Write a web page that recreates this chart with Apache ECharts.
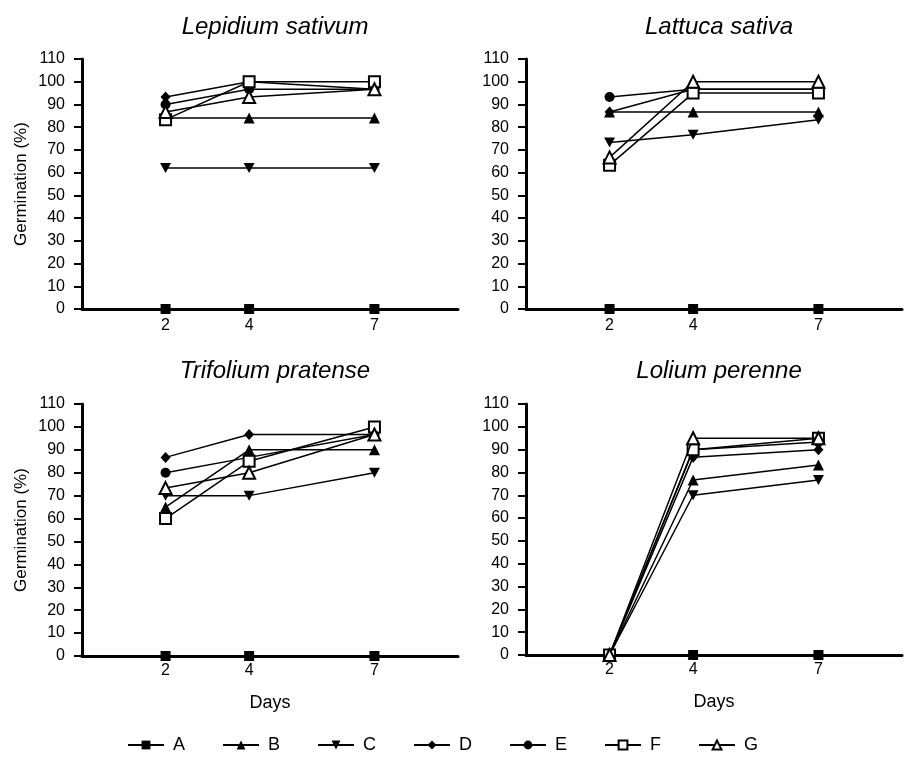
<!DOCTYPE html>
<html>
<head>
<meta charset="utf-8">
<script src="https://cdn.jsdelivr.net/npm/echarts@6/dist/echarts.min.js"></script>
<style>
html,body{margin:0;padding:0;background:#fff;}
#chart{width:907px;height:762px;}
</style>
</head>
<body>
<div id="chart"></div>
<script>
// ---- data ----
const days = [2, 4, 7];
const seriesNames = ['A', 'B', 'C', 'D', 'E', 'F', 'G'];
const panelTitles = ['Lepidium sativum', 'Lattuca sativa', 'Trifolium pratense', 'Lolium perenne'];
const yAxisTitle = 'Germination (%)';
const xAxisTitle = 'Days';

const lepidiumA = [0, 0, 0];
const lepidiumB = [84, 84, 84];
const lepidiumC = [62, 62, 62];
const lepidiumD = [93.3, 100, 96.7];
const lepidiumE = [90, 96.7, 96.7];
const lepidiumF = [83.3, 100, 100];
const lepidiumG = [86.7, 93.3, 96.7];

const lattucaA = [0, 0, 0];
const lattucaB = [86.7, 86.7, 86.7];
const lattucaC = [73.3, 76.7, 83.3];
const lattucaD = [86.7, 96.7, 96.7];
const lattucaE = [93.3, 96.7, 96.7];
const lattucaF = [63.3, 95, 95];
const lattucaG = [66.7, 100, 100];

const trifoliumA = [0, 0, 0];
const trifoliumB = [65, 90, 90];
const trifoliumC = [70, 70, 80];
const trifoliumD = [86.7, 96.7, 96.7];
const trifoliumE = [80, 86.7, 96.7];
const trifoliumF = [60, 85, 100];
const trifoliumG = [73.3, 80, 96.7];

const loliumA = [0, 0, 0];
const loliumB = [0, 76.7, 83.3];
const loliumC = [0, 70, 76.7];
const loliumD = [0, 86.7, 90];
const loliumE = [0, 90, 93.3];
const loliumF = [0, 90, 95];
const loliumG = [0, 95, 95];

const panels = [
  [lepidiumA, lepidiumB, lepidiumC, lepidiumD, lepidiumE, lepidiumF, lepidiumG],
  [lattucaA, lattucaB, lattucaC, lattucaD, lattucaE, lattucaF, lattucaG],
  [trifoliumA, trifoliumB, trifoliumC, trifoliumD, trifoliumE, trifoliumF, trifoliumG],
  [loliumA, loliumB, loliumC, loliumD, loliumE, loliumF, loliumG]
];

// ---- styles ----
const FONT = "'Liberation Sans Narrow', 'Liberation Sans', Arial, sans-serif";
const TFONT = "'Liberation Sans', Arial, sans-serif";
const symbolStyles = [
  { symbol: 'rect', size: 10, fill: '#000' },
  { symbol: 'triangle', size: 11, fill: '#000' },
  { symbol: 'path://M0,0 L10,0 L5,9 Z', size: [11, 10], fill: '#000' },
  { symbol: 'diamond', size: [10, 11], fill: '#000' },
  { symbol: 'circle', size: 10, fill: '#000' },
  { symbol: 'rect', size: 11, fill: '#fff', border: 2 },
  { symbol: 'triangle', size: 12, fill: '#fff', border: 2 }
];

const grids = [
  { left: 82, top: 59, width: 376, height: 250 },
  { left: 526, top: 59, width: 376, height: 250 },
  { left: 82, top: 404, width: 376, height: 252 },
  { left: 526, top: 404, width: 376, height: 251 }
];
const titleCenters = [[270, 10], [714, 10], [270, 354], [714, 354]];

const xAxes = grids.map((g, i) => ({
  gridIndex: i, type: 'value', min: 0, max: 9,
  name: i >= 2 ? xAxisTitle : '', nameLocation: 'middle', nameGap: 38,
  nameTextStyle: { fontFamily: FONT, fontSize: 18, color: '#000' },
  axisLine: { onZero: false, lineStyle: { color: '#000', width: 3 } },
  axisTick: { show: true, customValues: days, length: 4, lineStyle: { color: '#000', width: 2 } },
  axisLabel: { customValues: days, fontFamily: FONT, fontSize: 16, color: '#000', margin: i < 2 ? 9 : 7 },
  splitLine: { show: false }
}));
const yAxes = grids.map((g, i) => ({
  gridIndex: i, type: 'value', min: 0, max: 110, interval: 10,
  name: (i % 2 === 0) ? yAxisTitle : '', nameLocation: 'middle', nameGap: 52,
  nameTextStyle: { fontFamily: TFONT, fontSize: 17, color: '#000' },
  axisLine: { show: true, onZero: false, lineStyle: { color: '#000', width: 3 } },
  axisTick: { show: true, length: 8, lineStyle: { color: '#000', width: 2 } },
  axisLabel: { fontFamily: FONT, fontSize: 16, color: '#000', margin: 17 },
  splitLine: { show: false }
}));

const series = [];
panels.forEach((panel, pi) => {
  panel.forEach((vals, si) => {
    const st = symbolStyles[si];
    series.push({
      name: seriesNames[si], type: 'line',
      xAxisIndex: pi, yAxisIndex: pi,
      data: days.map((d, k) => [d, vals[k]]),
      symbol: st.symbol, symbolSize: st.size,
      clip: false,
      lineStyle: { color: '#000', width: 1.5 },
      itemStyle: { color: st.fill, borderColor: '#000', borderWidth: st.border || 0 },
      emphasis: { disabled: true },
      z: 2 + si
    });
  });
});

const chart = echarts.init(document.getElementById('chart'));
chart.setOption({
  animation: false,
  backgroundColor: '#fff',
  title: panelTitles.map((t, i) => ({
    text: t, left: titleCenters[i][0], top: titleCenters[i][1], textAlign: 'center',
    textStyle: { fontFamily: TFONT, fontStyle: 'italic', fontWeight: 'normal', fontSize: 24, color: '#000' }
  })),
  legend: {
    data: seriesNames, left: 127, top: 736, padding: 0, itemWidth: 36, itemHeight: 11, itemGap: 37,
    textStyle: { fontFamily: TFONT, fontSize: 18, color: '#000', padding: [0, 0, 0, 4] }
  },
  grid: grids,
  xAxis: xAxes,
  yAxis: yAxes,
  series: series
});
</script>
</body>
</html>
